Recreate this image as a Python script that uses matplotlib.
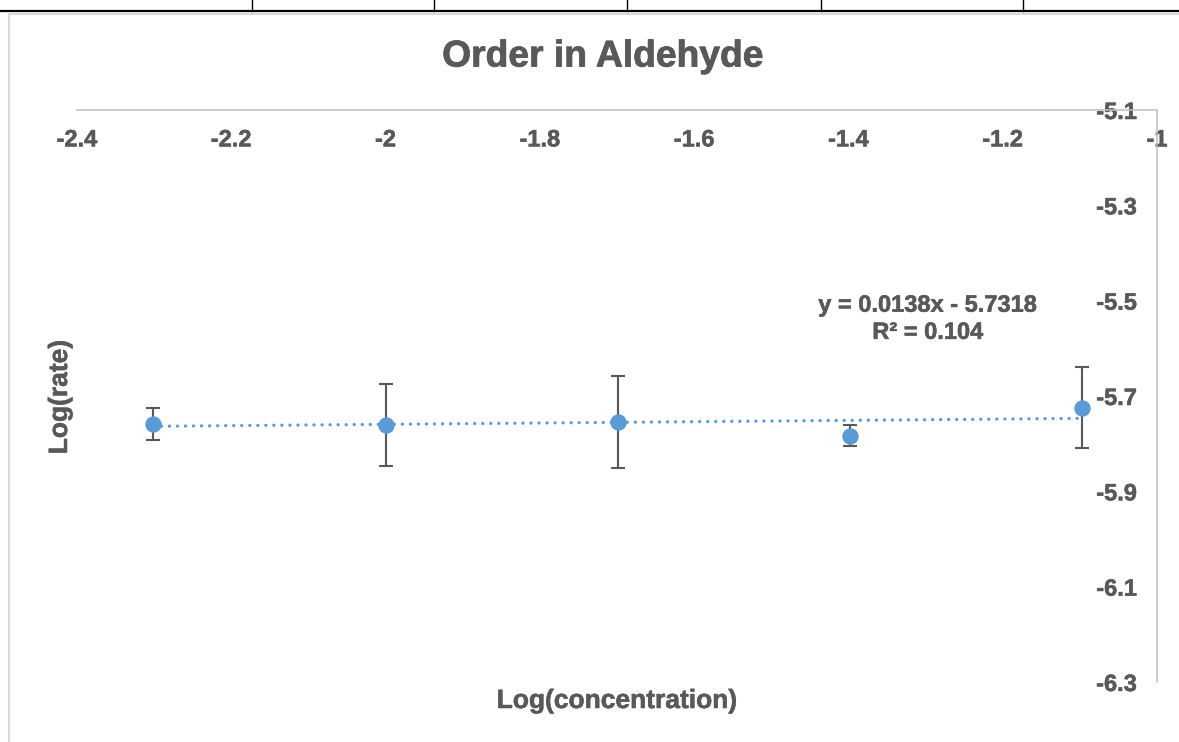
import matplotlib
matplotlib.use("Agg")
import matplotlib.pyplot as plt
import matplotlib.patheffects as pe
from matplotlib.lines import Line2D
from matplotlib.patches import Rectangle

# Measured kinetics data
log_conc = [-2.301, -2.000, -1.699, -1.398, -1.097]
log_rate = [-5.7585, -5.7606, -5.7551, -5.7837, -5.7250]
rate_err = [0.0333, 0.0866, 0.0967, 0.0221, 0.0851]

# Linear trendline (slope, intercept, R²)
slope = 0.0138
intercept = -5.7318
r_squared = 0.104

x_ticks = [-2.4, -2.2, -2.0, -1.8, -1.6, -1.4, -1.2, -1.0]
x_tick_labels = ["-2.4", "-2.2", "-2", "-1.8", "-1.6", "-1.4", "-1.2", "-1"]
y_ticks = [-6.3, -6.1, -5.9, -5.7, -5.5, -5.3, -5.1]
y_tick_labels = ["-6.3", "-6.1", "-5.9", "-5.7", "-5.5", "-5.3", "-5.1"]

TEXT = "#595959"
BLUE = "#5B9BD5"
AXIS = "#BFBFBF"
HEAVY = [pe.withStroke(linewidth=0.4, foreground=TEXT)]

plt.rcParams["font.family"] = ["Liberation Sans", "DejaVu Sans"]
plt.rcParams["font.weight"] = "bold"

W, H = 1179, 742
fig = plt.figure(figsize=(W / 100, H / 100), dpi=100)
ax = fig.add_axes([77 / W, 1 - 682 / H, 1080 / W, 572 / H])

# trendline
x0, x1 = log_conc[0], log_conc[-1]
ax.plot([x0, x1], [slope * x0 + intercept, slope * x1 + intercept],
        color=BLUE, lw=2.4, linestyle=(0, (0.01, 2.4)),
        dash_capstyle="round", zorder=2)

# data points with error bars
ax.errorbar(log_conc, log_rate, yerr=rate_err, fmt="o", color=BLUE,
            markersize=10.8, ecolor=TEXT, elinewidth=1.5, capsize=4.7,
            capthick=1.5, zorder=3)

ax.set_xlim(-2.4, -1.0)
ax.set_ylim(-6.3, -5.1)

for side in ("left", "bottom"):
    ax.spines[side].set_visible(False)
for side in ("top", "right"):
    ax.spines[side].set_color(AXIS)
    ax.spines[side].set_linewidth(1.1)

ax.set_xticks(x_ticks, x_tick_labels)
ax.set_yticks(y_ticks, y_tick_labels)
ax.tick_params(axis="x", top=True, bottom=False, labeltop=True,
               labelbottom=False, length=0, pad=-21.5, labelsize=17,
               labelcolor=TEXT)
ax.tick_params(axis="y", right=True, left=False, labelright=True,
               labelleft=False, length=0, pad=-14.4, labelsize=17,
               labelcolor=TEXT)
plt.setp(ax.get_xticklabels(), va="center", fontweight="bold",
         path_effects=HEAVY)
plt.setp(ax.get_yticklabels(), ha="right", fontweight="bold",
         path_effects=HEAVY)

ax.set_xlabel("Log(concentration)", fontsize=19, color=TEXT,
              fontweight="bold", path_effects=HEAVY)
ax.xaxis.set_label_position("bottom")
ax.xaxis.set_label_coords((617 - 77) / 1080, (682 - 701) / 572)
ax.xaxis.label.set_va("center")

ax.set_ylabel("Log(rate)", fontsize=19, color=TEXT, fontweight="bold",
              path_effects=HEAVY)
ax.yaxis.set_label_position("left")
ax.yaxis.set_label_coords((60 - 77) / 1080, (682 - 397) / 572)
ax.yaxis.label.set_va("center")

fig.suptitle("Order in Aldehyde", x=603 / W, y=1 - 57 / H, va="center",
             fontsize=26.8, color=TEXT, fontweight="bold",
             path_effects=[pe.withStroke(linewidth=0.6, foreground=TEXT)])

# trendline equation
ax.text(-1.297, -5.5095, f"y = {slope}x - {abs(intercept)}", ha="center",
        va="center", fontsize=17, color=TEXT, fontweight="bold",
        path_effects=HEAVY)
ax.text(-1.297, -5.5665, f"R² = {r_squared}", ha="center", va="center",
        fontsize=17, color=TEXT, fontweight="bold", path_effects=HEAVY)

# chart frame and surrounding table rule
fig.add_artist(Rectangle((9 / W, -0.1), 2.0, 1.1 - 14 / H,
                         transform=fig.transFigure, fill=False,
                         ec="#D9D9D9", lw=1.5))
fig.add_artist(Line2D([0, 1], [1 - 11 / H] * 2, transform=fig.transFigure,
                      color="black", lw=1.6))
for px in (252, 434, 627, 821, 1023):
    fig.add_artist(Line2D([px / W] * 2, [1, 1 - 11 / H],
                          transform=fig.transFigure, color="black", lw=1.0))

fig.savefig("out.png", dpi=100, facecolor="white")
